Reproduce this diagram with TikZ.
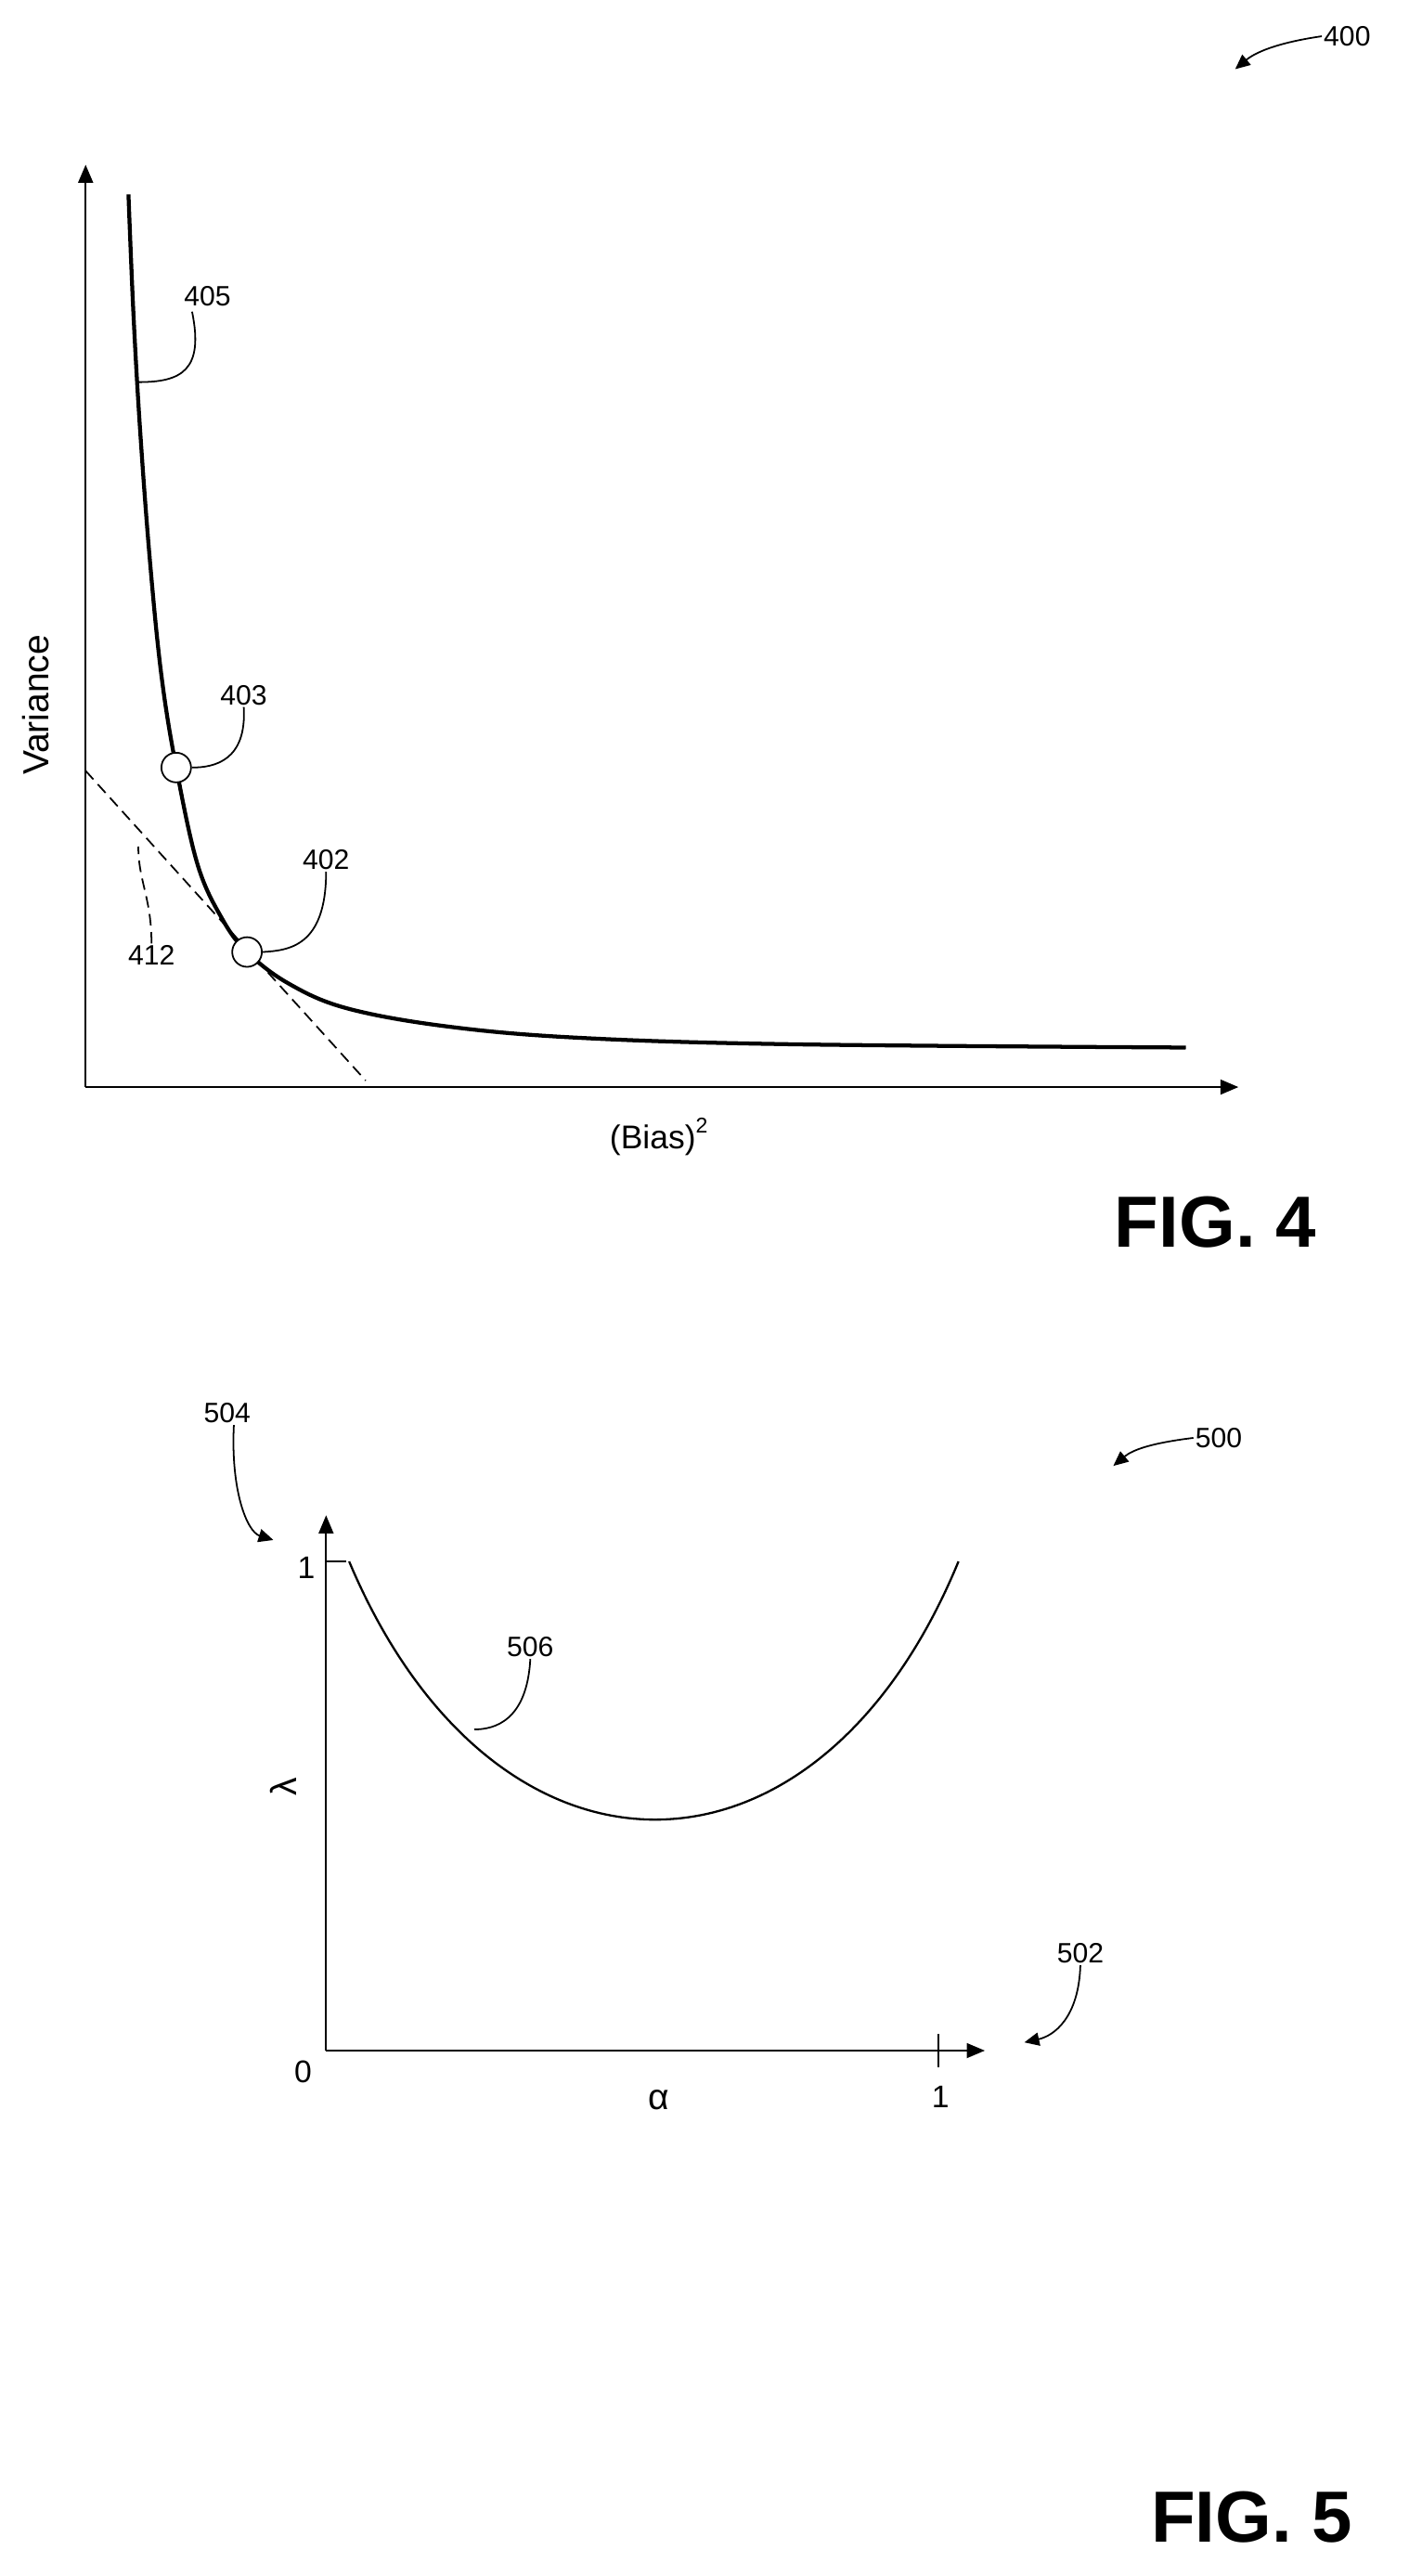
\documentclass[tikz,border=0pt]{standalone}
\usepackage{fontspec}
\setmainfont{Liberation Sans}
\usetikzlibrary{arrows.meta}
\begin{document}
\begin{tikzpicture}[x=1pt,y=-1pt,
  ax/.style={line width=1.3pt,-{Triangle[length=11pt,width=9pt]}},
  lead/.style={line width=1pt},
  dsh/.style={dash pattern=on 7pt off 4pt},
  refarr/.style={line width=1pt,-{Triangle[length=9pt,width=8pt]}},
  lbl/.style={font=\fontsize{17}{19}\selectfont,inner sep=1pt},
  fig/.style={font=\fontsize{44}{48}\selectfont\bfseries,inner sep=0pt},
  dot/.style={circle,draw,fill=white,line width=1pt,minimum size=18pt,inner sep=0pt}]
\useasboundingbox (0,0) rectangle (855,1564);
% FIG 4
\coordinate (o4) at (52,660);
\coordinate (y4) at (52,100);
\coordinate (x4) at (752,660);
\draw[ax] (o4) -- (y4);
\draw[ax] (o4) -- (x4);
\draw[dsh,line width=1pt] (52,468) -- (222,656);
\draw[line width=2.4pt] plot[smooth,tension=0.6] coordinates {(78,118) (81,190) (85,260) (91,340) (98,410) (107,466) (120,525) (135,558) (150,578) (175,597) (210,612) (270,623) (350,630) (480,634) (720,636)};
\node[dot] (p403) at (107,466) {};
\node[dot] (p402) at (150,578) {};
\node[lbl] (l405) at (126,180) {405};
\node[lbl] (l403) at (148,422) {403};
\node[lbl] (l402) at (198,522) {402};
\node[lbl] (l412) at (92,580) {412};
\node[lbl] (l400) at (818,22) {400};
\draw[lead] (l405.south west) ++(6,2) .. controls (124,225) and (110,232) .. (84,232);
\draw[lead] (l403.south) .. controls (150,462) and (130,466) .. (p403.east);
\draw[lead] (l402.south) .. controls (198,575) and (175,577) .. (p402.east);
\draw[lead,dsh] (l412.north) .. controls (92,545) and (84,535) .. (84,514);
\draw[refarr] (l400.west) .. controls (775,26) and (762,32) .. (750,42);
\node[font=\fontsize{22}{24}\selectfont,rotate=90] (var) at (22,428) {Variance};
\node[font=\fontsize{20}{22}\selectfont] (bias) at (400,690) {(Bias)\raisebox{0.9ex}{\fontsize{13}{14}\selectfont 2}};
\node[fig] (f4) at (738,742) {FIG. 4};
% FIG 5
\coordinate (o5) at (198,1245);
\coordinate (y5) at (198,920);
\coordinate (x5) at (598,1245);
\draw[ax,line width=1pt] (o5) -- (y5);
\draw[ax,line width=1pt] (o5) -- (x5);
\draw[line width=1pt] (198,948) -- (210,948);
\draw[line width=1pt] (570,1235) -- (570,1255);
\draw[line width=1.3pt] (212,948) .. controls (300,1157) and (496,1157) .. (582,948);
\node[lbl,font=\fontsize{19}{21}\selectfont] (t1) at (186,952) {1};
\node[lbl,font=\fontsize{19}{21}\selectfont] (t0) at (184,1258) {0};
\node[lbl,font=\fontsize{19}{21}\selectfont] (tx1) at (571,1273) {1};
\node[font=\fontsize{22}{24}\selectfont] (alpha) at (400,1275) {α};
\node[font=\fontsize{22}{24}\selectfont,rotate=90] (lam) at (172,1085) {λ};
\node[lbl] (l506) at (322,1000) {506};
\node[lbl] (l504) at (138,858) {504};
\node[lbl] (l500) at (740,873) {500};
\node[lbl] (l502) at (656,1186) {502};
\draw[lead] (l506.south) .. controls (320,1045) and (300,1050) .. (288,1050);
\draw[refarr] (l504.south) ++(4,0) .. controls (140,905) and (150,930) .. (166,935);
\draw[refarr] (l500.west) .. controls (700,876) and (688,880) .. (676,890);
\draw[refarr] (l502.south) .. controls (655,1225) and (640,1236) .. (622,1240);
\node[fig] (f5) at (760,1528) {FIG. 5};
\end{tikzpicture}
\end{document}
